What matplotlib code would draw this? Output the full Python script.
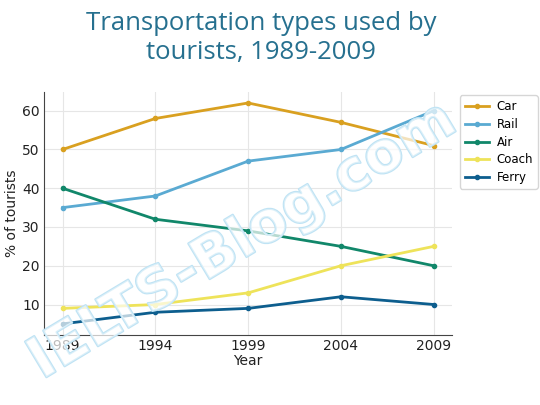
import matplotlib
matplotlib.use("Agg")
import matplotlib.pyplot as plt
import matplotlib.patheffects as pe

years = [1989, 1994, 1999, 2004, 2009]
car = [50, 58, 62, 57, 51]
rail = [35, 38, 47, 50, 60]
air = [40, 32, 29, 25, 20]
coach = [9, 10, 13, 20, 25]
ferry = [5, 8, 9, 12, 10]
series_names = ["Car", "Rail", "Air", "Coach", "Ferry"]
series_values = [car, rail, air, coach, ferry]
colors = ["#D9A020", "#5AAAD2", "#11876A", "#EEE35A", "#0D5E8E"]

fig = plt.figure(figsize=(5.4, 4.05), dpi=100)
ax = fig.add_axes([0.0815, 0.173, 0.756, 0.60])

for name, vals, c in zip(series_names, series_values, colors):
    ax.plot(years, vals, color=c, lw=2, marker="o", ms=3, label=name)

ax.set_xticks(years)
ax.set_xticklabels([str(y) for y in years])
ax.set_yticks([10, 20, 30, 40, 50, 60])
ax.tick_params(length=0, labelsize=10, colors="#222222", pad=3)
ax.grid(True, color="#e6e6e6", lw=0.8)
ax.set_axisbelow(True)
for s in ["top", "right"]:
    ax.spines[s].set_visible(False)
for s in ["left", "bottom"]:
    ax.spines[s].set_color("#444444")
ax.set_xlabel("Year", fontsize=10, color="#222222", labelpad=1)
ax.set_ylabel("% of tourists", fontsize=10, color="#222222", labelpad=2)

leg = ax.legend(loc="upper left", bbox_to_anchor=(1.01, 1.0), fontsize=8.5,
                frameon=True, handlelength=2.1, borderpad=0.4,
                labelspacing=0.4, handletextpad=0.6, borderaxespad=0.3)
leg.get_frame().set_edgecolor("#cccccc")

fig.text(0.483, 0.972, "Transportation types used by\ntourists, 1989-2009",
         ha="center", va="top", fontsize=18.5, color="#26708F",
         family="Open Sans", linespacing=1.2)

fig.text(0.45, 0.405, "IELTS-Blog.com", rotation=31, ha="center", va="center",
         fontsize=41, fontweight="bold", color=(1, 1, 1, 0.45),
         path_effects=[pe.withStroke(linewidth=1.6, foreground="#bfe3f4")],
         zorder=10)

fig.savefig("out.png", dpi=100)
